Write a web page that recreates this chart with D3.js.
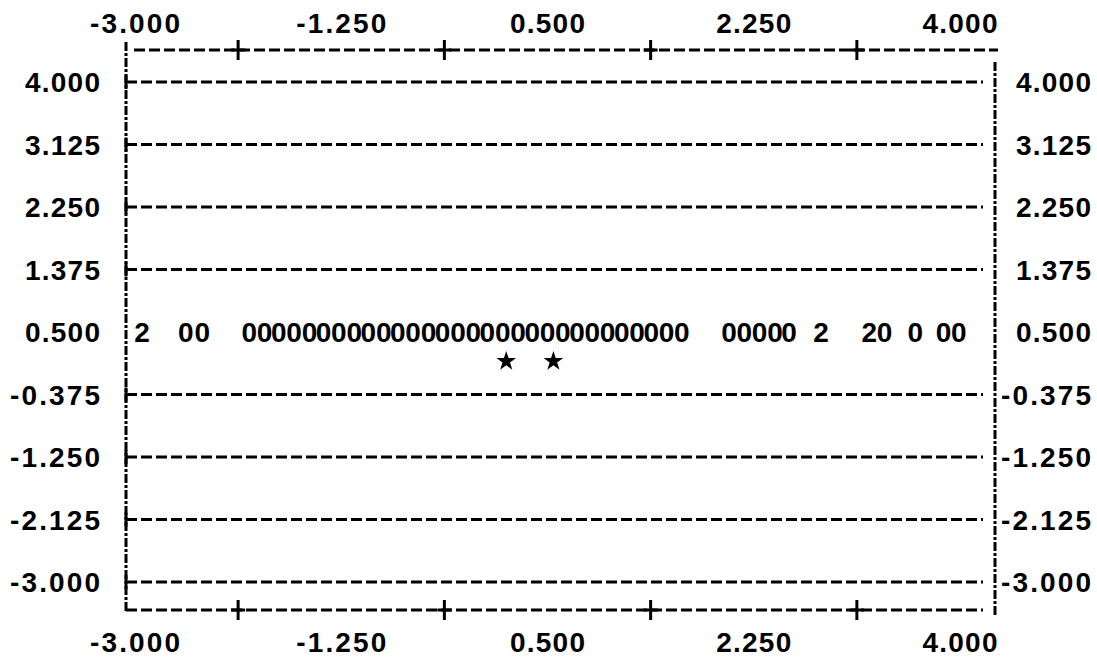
<!DOCTYPE html>
<html>
<head>
<meta charset="utf-8">
<script src="https://cdn.jsdelivr.net/npm/d3@7"></script>
<style>
  html, body { margin: 0; padding: 0; background: #fff; }
  svg { display: block; }
  text { font-family: "Liberation Sans", Arial, sans-serif; font-weight: bold; fill: #000; }
</style>
</head>
<body>
<svg id="chart"></svg>
<script>
// tick labels, printed on all four sides
const xTickLabels = ['-3.000', '-1.250', '0.500', '2.250', '4.000'];
const yTickLabels = ['4.000', '3.125', '2.250', '1.375', '0.500', '-0.375', '-1.250', '-2.125', '-3.000'];
// "+" marks on the top and bottom border
const xMinorTicks = [-2.125, -0.375, 1.375, 3.125];

// printed row at y = 0.5 : x position and printed symbol
const rowY = 0.5;
const rowX = [
    -2.94, -2.57, -2.43,
    -2.03, -1.90, -1.78, -1.65, -1.52, -1.40, -1.27, -1.14, -1.02, -0.89,
    -0.77, -0.64, -0.51, -0.39, -0.26, -0.13, -0.01, 0.12, 0.25, 0.37,
    0.50, 0.63, 0.75, 0.88, 1.01, 1.13, 1.26, 1.38, 1.51, 1.64,
    2.04, 2.17, 2.30, 2.43, 2.55,
    2.82,
    3.23, 3.36,
    3.62,
    3.86, 3.99
];
const rowSymbols = '2 00 0000000000 0000000000 0000000000 00000 2 20 0 00'.replace(/ /g, '').split('');

// second series, printed as stars
const starX = [0.15, 0.55];
const starY = [0.09, 0.09];

const W = 1097, H = 660;
const cw = 15;          // width of one printed character

const svg = d3.select('#chart').attr('width', W).attr('height', H);

const x = d3.scaleLinear().domain([-3, 4]).range([135, 960]);
const y = d3.scaleLinear().domain([-3, 4]).range([582, 82]);

const frameL = x(-3) - 9, frameR = x(4) + 35;
const frameT = y(4) - 32, frameB = y(-3) + 28;

const lines = svg.append('g')
    .attr('stroke', '#000')
    .attr('stroke-width', 3)
    .attr('fill', 'none');

// horizontal grid rows (not on the printed data row)
lines.selectAll('.grid')
    .data(yTickLabels.map(Number).filter(d => d !== rowY))
    .join('line')
    .attr('class', 'grid')
    .attr('x1', frameL).attr('x2', frameR - 12)
    .attr('y1', d => y(d)).attr('y2', d => y(d))
    .attr('stroke-dasharray', '11,4');

// left "+" at the grid rows
lines.selectAll('.ltick')
    .data(yTickLabels.map(Number).filter(d => d !== rowY))
    .join('line')
    .attr('class', 'ltick')
    .attr('x1', frameL).attr('x2', frameL)
    .attr('y1', d => y(d) - 7).attr('y2', d => y(d) + 7);

// top and bottom border
lines.append('line')
    .attr('x1', frameL + 8).attr('x2', frameR + 3)
    .attr('y1', frameT).attr('y2', frameT)
    .attr('stroke-dasharray', '11,4');
lines.append('line')
    .attr('x1', frameL).attr('x2', frameR - 12)
    .attr('y1', frameB).attr('y2', frameB)
    .attr('stroke-dasharray', '11,4');

// left and right border
lines.append('line')
    .attr('x1', frameL).attr('x2', frameL)
    .attr('y1', frameT - 8).attr('y2', frameB + 2)
    .attr('stroke-dasharray', '9,2,3,2');
lines.append('line')
    .attr('x1', frameR).attr('x2', frameR)
    .attr('y1', y(4) - 20).attr('y2', frameB + 5)
    .attr('stroke-dasharray', '9,2,3,2');

// "+" marks on top and bottom border
[frameT, frameB].forEach(by => {
    lines.append('g').selectAll('line')
        .data(xMinorTicks)
        .join('line')
        .attr('x1', d => x(d)).attr('x2', d => x(d))
        .attr('y1', by - 10).attr('y2', by + 10);
    lines.append('g').selectAll('line')
        .data(xMinorTicks)
        .join('line')
        .attr('x1', d => x(d) - 7).attr('x2', d => x(d) + 7)
        .attr('y1', by).attr('y2', by);
});

const fs = 28;

// x labels, top and bottom
[33, 652].forEach(ty => {
    svg.append('g').selectAll('text')
        .data(xTickLabels)
        .join('text')
        .attr('x', d => x(+d))
        .attr('y', ty)
        .attr('text-anchor', 'middle')
        .attr('font-size', fs)
        .attr('textLength', d => cw * d.length)
        .attr('lengthAdjust', 'spacing')
        .text(d => d);
});

// y labels, left (right aligned) and right (fixed 6-char field)
svg.append('g').selectAll('text')
    .data(yTickLabels)
    .join('text')
    .attr('x', frameL - 26)
    .attr('y', d => y(+d))
    .attr('dy', '0.36em')
    .attr('text-anchor', 'end')
    .attr('font-size', fs)
    .attr('textLength', d => cw * d.length)
    .attr('lengthAdjust', 'spacing')
    .text(d => d);

svg.append('g').selectAll('text')
    .data(yTickLabels)
    .join('text')
    .attr('x', d => frameR + 6 + (d.startsWith('-') ? 0 : cw))
    .attr('y', d => y(+d))
    .attr('dy', '0.36em')
    .attr('font-size', fs)
    .attr('textLength', d => cw * d.length)
    .attr('lengthAdjust', 'spacing')
    .text(d => d);

// printed data row
svg.append('g').selectAll('text')
    .data(rowX.map((v, i) => ({ x: v, s: rowSymbols[i] })))
    .join('text')
    .attr('x', d => x(d.x))
    .attr('y', y(rowY))
    .attr('dy', '0.36em')
    .attr('text-anchor', 'middle')
    .attr('font-size', fs)
    .text(d => d.s);

// stars
svg.append('g').selectAll('path')
    .data(starX.map((v, i) => [v, starY[i]]))
    .join('path')
    .attr('transform', d => `translate(${x(d[0])},${y(d[1])})`)
    .attr('d', d3.symbol(d3.symbolStar).size(120))
    .attr('fill', '#000');
</script>
</body>
</html>
